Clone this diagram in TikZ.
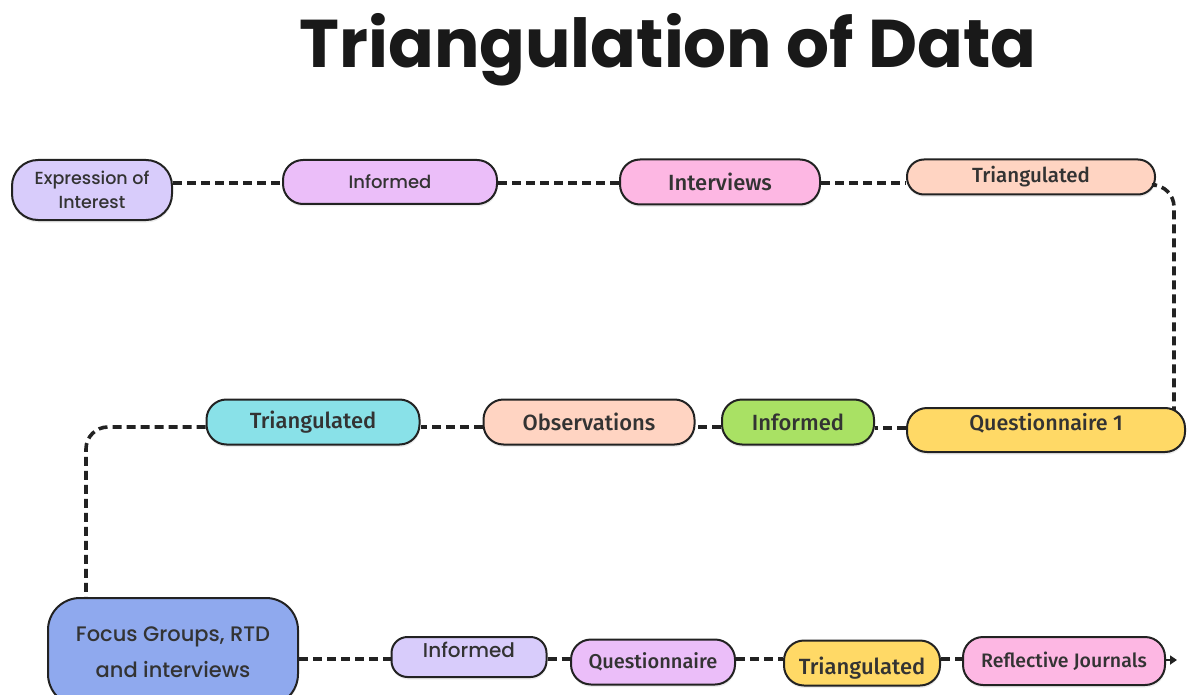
\documentclass[tikz,border=0pt]{standalone}
\usepackage{fontspec}
\setmainfont{Fira Sans Medium}
\newfontfamily\geo{Poppins Medium}
\newfontfamily\headfont{Poppins Bold}
\usetikzlibrary{arrows.meta,shadows,calc}
\definecolor{lav}{HTML}{D8CCFB}
\definecolor{vio}{HTML}{EBBEF9}
\definecolor{pnk}{HTML}{FDB7E3}
\definecolor{pch}{HTML}{FFD4C2}
\definecolor{ylw}{HTML}{FFD966}
\definecolor{grn}{HTML}{A9E164}
\definecolor{cyn}{HTML}{89E1E8}
\definecolor{blu}{HTML}{8FA9EE}
\definecolor{ink}{HTML}{222222}
\begin{document}
\begin{tikzpicture}[x=1pt,y=-1pt,
  pill/.style={draw=ink, line width=2pt, rounded corners=20pt, inner sep=0pt,
    text=black!80, align=center,
    drop shadow={shadow xshift=0.5pt, shadow yshift=-2.5pt, opacity=0.15}},
  link/.style={draw=ink, line width=3.6pt, dash pattern=on 9pt off 5pt},
]
\useasboundingbox (0,0) rectangle (1188,695);

% title
\node[anchor=base, font=\headfont\fontsize{67.5}{67.5}\selectfont, text=black!90]
  (title) at (668,68) {Triangulation of Data};

% first row
\node[pill, fill=lav, minimum width=160, minimum height=60, rounded corners=26pt,
  font=\geo\fontsize{17.5}{24}\selectfont] (eoi) at (92,190) {Expression of\\Interest};
\node[pill, fill=vio, minimum width=214, minimum height=44,
  font=\geo\fontsize{18}{18}\selectfont] (inf1) at (390,182) {Informed};
\node[pill, fill=pnk, minimum width=200, minimum height=45,
  font=\fontsize{22}{24}\selectfont] (intv) at (720,182) {Interviews};
\node[pill, fill=pch, minimum width=248, minimum height=35, rounded corners=17pt,
  font=\fontsize{20.5}{20}\selectfont] (tri1) at (1031,177) {Triangulated};

% second row
\node[pill, fill=ylw, minimum width=278, minimum height=44,
  font=\fontsize{21.5}{22}\selectfont] (q1) at (1046,430) {\smash{Questionnaire 1}};
\node[pill, fill=grn, minimum width=152, minimum height=45,
  font=\fontsize{22}{24}\selectfont] (inf2) at (798,422) {Informed};
\node[pill, fill=pch, minimum width=211, minimum height=45,
  font=\fontsize{22}{24}\selectfont] (obs) at (589,422) {Observations};
\node[pill, fill=cyn, minimum width=213, minimum height=45,
  font=\fontsize{22}{24}\selectfont] (tri2) at (313,422) {Triangulated};

% third row
\node[pill, fill=blu, minimum width=250, minimum height=108, rounded corners=32pt,
  font=\geo\fontsize{21}{36}\selectfont] (fg) at (173,652) {Focus Groups, RTD\\and interviews};
\node[pill, fill=lav, minimum width=155, minimum height=40, rounded corners=16pt,
  font=\geo\fontsize{20}{22}\selectfont] (inf3) at (469,657) {\smash{Informed}};
\node[pill, fill=vio, minimum width=164, minimum height=45,
  font=\fontsize{20}{20}\selectfont] (qst) at (653,662) {Questionnaire};
\node[pill, fill=ylw, minimum width=156, minimum height=45,
  font=\fontsize{22}{24}\selectfont] (tri3) at (862,663) {\smash{\raisebox{-11.5pt}{Triangulated}}};
\node[pill, fill=pnk, minimum width=202, minimum height=48,
  font=\fontsize{19.5}{20}\selectfont] (rj) at (1064,661) {Reflective Journals};
\coordinate (tip) at (1177,660);

% dashed connectors
\draw[link] (eoi.east |- 0,183) -- (inf1.west |- 0,183);
\draw[link] (inf1.east |- 0,183) -- (intv.west |- 0,183);
\draw[link] (intv.east |- 0,183) -- (tri1.west |- 0,183);
\draw[link, rounded corners=22pt] ([yshift=-8pt]tri1.east) -| ([xshift=-12pt,yshift=-3pt]q1.north east);
\draw[link] (q1.west |- 0,428) -- (inf2.east |- 0,428);
\draw[link] (inf2.west |- 0,427) -- (obs.east |- 0,427);
\draw[link] (obs.west |- 0,427) -- (tri2.east |- 0,427);
\draw[link, rounded corners=22pt] (tri2.west |- 0,427) -| ([xshift=39pt]fg.north west);
\draw[link] (fg.east |- 0,659) -- (inf3.west |- 0,659);
\draw[link] (inf3.east |- 0,659) -- (qst.west |- 0,659);
\draw[link] (qst.east |- 0,659) -- (tri3.west |- 0,659);
\draw[link] (tri3.east |- 0,659) -- (rj.west |- 0,659);
\draw[draw=ink, line width=2pt, -{Triangle[length=7pt,width=9pt]}] (rj.east |- 0,660) -- (tip);
\end{tikzpicture}
\end{document}
